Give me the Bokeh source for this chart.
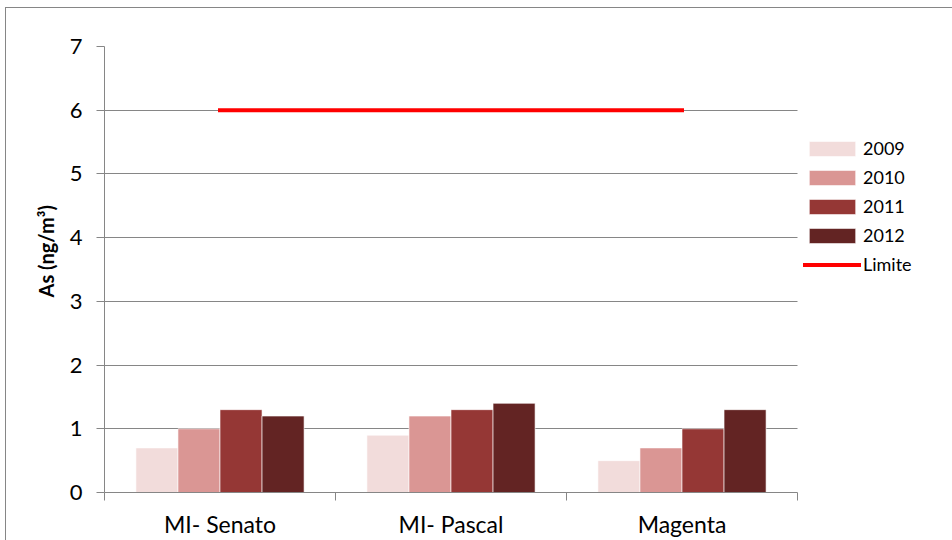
from bokeh.plotting import figure
from bokeh.models import Range1d, FixedTicker, Legend, LegendItem, InlineStyleSheet, Title
from bokeh.embed import file_html
from bokeh.resources import INLINE
import numpy as np

# Arsenic annual means per station (ng/m3)
stations = ["MI- Senato", "MI- Pascal", "Magenta"]
years = ["2009", "2010", "2011", "2012"]
as_2009 = [0.7, 0.9, 0.5]
as_2010 = [1.0, 1.2, 0.7]
as_2011 = [1.3, 1.3, 1.0]
as_2012 = [1.2, 1.4, 1.3]
limit_value = [6, 6, 6]
y_ticks = [0, 1, 2, 3, 4, 5, 6, 7]

series = [as_2009, as_2010, as_2011, as_2012]
colors = ["#F2DCDB", "#DA9694", "#953735", "#632423"]
grid_gray = "#868686"
font = "Lato"

W, H = 952, 540
left, top, bottom = 104, 46, 48
plot_right = 797            # where the station axis ends; legend lives to its right

n = len(stations)
centers = np.arange(n) + 0.5
bar_w = 0.182
x_end = n * (W - left) / (plot_right - left)

# thin frame around the whole chart area
frame_css = InlineStyleSheet(css="""
:host { position: relative; }
:host::after {
  content: ''; position: absolute; left: 5px; top: 7px; right: 0; bottom: 0;
  border-left: 1px solid #868686; border-top: 1px solid #868686;
  pointer-events: none;
}
""")

p = figure(width=W, height=H, output_backend="svg", toolbar_location=None,
           x_range=Range1d(0, x_end), y_range=Range1d(0, 7),
           min_border_left=left, min_border_right=0,
           min_border_top=top, min_border_bottom=bottom,
           stylesheets=[frame_css])
p.outline_line_color = None
p.background_fill_color = "white"
p.border_fill_color = "white"

bars = []
for i, (vals, col) in enumerate(zip(series, colors)):
    xs = centers + (i - 1.5) * bar_w
    r = p.vbar(x=xs, top=vals, width=bar_w, bottom=0, fill_color=col,
               line_color="white", line_alpha=0.6, line_width=1)
    bars.append(r)

lim = p.line(x=centers, y=limit_value, line_color="#FF0000", line_width=4,
             line_cap="square")

# y axis
p.yaxis.ticker = FixedTicker(ticks=y_ticks)
p.yaxis.axis_line_color = grid_gray
p.yaxis.major_tick_line_color = grid_gray
p.yaxis.major_tick_out = 8
p.yaxis.major_tick_in = 0
p.yaxis.minor_tick_line_color = None
p.yaxis.major_label_standoff = 14
p.yaxis.major_label_text_font = font
p.yaxis.major_label_text_font_size = "22px"
p.yaxis.major_label_text_color = "black"

ytitle = Title(text="As (ng/m\u00b3)", align="left", offset=195, standoff=18,
               text_font=font, text_font_size="20px", text_font_style="bold",
               text_color="black")
p.add_layout(ytitle, "left")

# x axis: labels at station centres, tick marks between stations
bounds = list(range(n + 1))
p.xaxis.ticker = FixedTicker(ticks=list(centers), minor_ticks=bounds)
p.xaxis.bounds = (0, n)
p.xaxis.major_label_overrides = {float(c): s for c, s in zip(centers, stations)}
p.xaxis.axis_line_color = grid_gray
p.xaxis.major_tick_line_color = None
p.xaxis.major_tick_out = 0
p.xaxis.major_tick_in = 0
p.xaxis.minor_tick_line_color = grid_gray
p.xaxis.minor_tick_out = 8
p.xaxis.minor_tick_in = 0
p.xaxis.major_label_standoff = 9
p.xaxis.major_label_text_font = font
p.xaxis.major_label_text_font_size = "23px"
p.xaxis.major_label_text_color = "black"

p.xgrid.grid_line_color = None
p.ygrid.ticker = FixedTicker(ticks=y_ticks)
p.ygrid.cross_bounds = (0, n)
p.ygrid.grid_line_color = grid_gray
p.ygrid.grid_line_width = 1

items = [LegendItem(label=y, renderers=[r]) for y, r in zip(years, bars)]
items.append(LegendItem(label="Limite", renderers=[lim]))
legend = Legend(items=items, location=(plot_right + 6 - left, 217),
                border_line_color=None, background_fill_alpha=0, padding=0, margin=0,
                spacing=7, glyph_width=58, glyph_height=19, label_height=19,
                label_standoff=2,
                label_text_font=font, label_text_font_size="18px",
                label_text_color="black")
p.add_layout(legend)

open("out.html", "w").write(file_html(p, INLINE))
